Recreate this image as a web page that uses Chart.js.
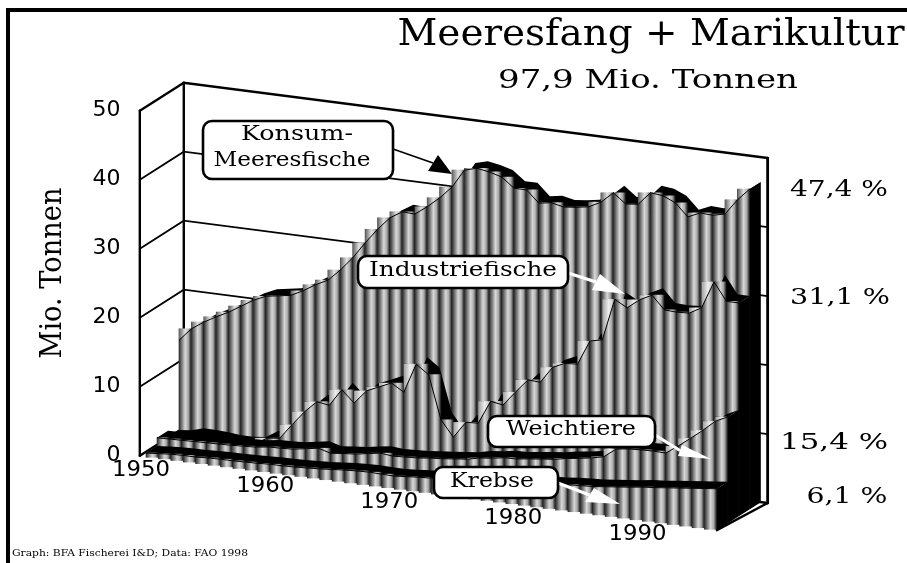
<!DOCTYPE html>
<html>
<head>
<meta charset="utf-8">
<title>Meeresfang + Marikultur</title>
<script src="https://cdn.jsdelivr.net/npm/chart.js@4/dist/chart.umd.min.js"></script>
<style>
  html, body { margin: 0; padding: 0; background: #fff; }
  canvas { display: block; }
</style>
</head>
<body>
<canvas id="chart" width="907" height="563"></canvas>
<script>
const years = [1950, 1951, 1952, 1953, 1954, 1955, 1956, 1957, 1958, 1959,
  1960, 1961, 1962, 1963, 1964, 1965, 1966, 1967, 1968, 1969,
  1970, 1971, 1972, 1973, 1974, 1975, 1976, 1977, 1978, 1979,
  1980, 1981, 1982, 1983, 1984, 1985, 1986, 1987, 1988, 1989,
  1990, 1991, 1992, 1993, 1994, 1995, 1996];

const konsum = [13.8, 15.7, 16.9, 17.9, 18.8, 19.9, 21.0, 21.8, 22.1, 22.4,
  23.3, 24.4, 25.3, 27.0, 29.0, 31.4, 33.6, 35.5, 36.6, 36.5,
  37.8, 39.3, 41.1, 43.8, 44.3, 44.0, 43.5, 42.1, 42.1, 40.4,
  40.7, 40.3, 40.5, 40.8, 41.7, 43.3, 41.9, 42.1, 44.0, 43.8,
  43.0, 41.2, 42.0, 41.9, 42.3, 44.6, 46.4];
const industrie = [0.8, 1.0, 1.5, 1.5, 1.4, 1.2, 1.2, 1.4, 2.5, 2.7,
  4.9, 7.0, 8.7, 8.4, 10.9, 9.2, 11.2, 12.0, 12.8, 11.7,
  16.0, 14.7, 8.4, 6.1, 8.5, 8.6, 12.0, 11.7, 13.8, 15.8,
  15.7, 18.1, 18.9, 19.0, 22.6, 23.0, 29.1, 28.1, 29.5, 30.4,
  28.5, 28.4, 28.5, 29.5, 33.5, 30.9, 30.9];
const weichtiere = [1.7, 1.75, 1.8, 1.85, 1.9, 1.95, 2.0, 2.1, 2.2, 2.45,
  2.5, 2.6, 2.9, 3.2, 2.7, 2.9, 3.05, 3.35, 3.65, 3.45,
  3.55, 3.65, 3.85, 4.0, 4.2, 4.4, 4.8, 5.0, 5.3, 5.35,
  5.6, 5.8, 6.0, 6.35, 6.6, 6.9, 7.3, 8.65, 8.9, 9.0,
  9.05, 9.0, 10.25, 11.6, 13.0, 14.55, 15.4];
const krebse = [0.5, 0.65, 0.8, 0.85, 0.85, 0.95, 1.0, 1.0, 1.05, 1.1,
  1.2, 1.2, 1.25, 1.35, 1.45, 1.6, 1.75, 1.85, 1.9, 1.85,
  1.8, 1.95, 2.1, 2.2, 2.3, 2.4, 2.6, 2.7, 2.9, 3.0,
  3.2, 3.3, 3.5, 3.6, 3.8, 3.9, 4.0, 4.2, 4.4, 4.6,
  4.85, 5.0, 5.2, 5.4, 5.6, 5.8, 6.0];

const layers = [konsum, industrie, weichtiere, krebse]; // back to front
const yTicks = [0, 10, 20, 30, 40, 50];
const xTickYears = [1950, 1960, 1970, 1980, 1990];
const shares = ['47,4 %', '31,1 %', '15,4 %', '6,1 %'];

// oblique projection: year / depth row / value -> axis units
const DEPTH_X = 0.886;
const DEPTH_Y = 1.014;
const SHEAR = 0.232;
const DROP = 0.217;
const projX = (yr, k) => yr + k * DEPTH_X;
const projY = (yr, k, v) => v + k * DEPTH_Y - SHEAR * (yr - 1950) - DROP;
const pt = (yr, k, v) => ({ x: projX(yr, k), y: projY(yr, k, v) });

const datasets = [];

function lineSet(points, color, width) {
  datasets.push({ type: 'line', data: points, borderColor: color, borderWidth: width,
    pointRadius: 0, fill: false, tension: 0, clip: false, borderCapStyle: 'round' });
}
function shapeSet(points, color) {
  datasets.push({ type: 'line', data: points, borderWidth: 0, borderColor: 'transparent',
    backgroundColor: color, pointRadius: 0, fill: 'shape', tension: 0, clip: false });
}

// walls
const wallLeft = 1949.5, wallRight = 1996.55, wallDepth = 4;
yTicks.forEach(v => {
  const w = (v === 0 || v === 50) ? 2.4 : 1.8;
  lineSet([pt(wallLeft, 0, v), pt(wallLeft, wallDepth, v), pt(wallRight, wallDepth, v)], '#000', w);
});
lineSet([pt(wallLeft, 0, 0), pt(wallLeft, 0, 50)], '#000', 2.4);
lineSet([pt(wallLeft, wallDepth, 0), pt(wallLeft, wallDepth, 50)], '#000', 2.4);
lineSet([pt(wallRight, wallDepth, 0), pt(wallRight, wallDepth, 50)], '#000', 2.8);
lineSet([pt(1996, 0, 0), pt(wallRight, wallDepth, 0)], '#000', 2.4);

function barColor(ctx) {
  const sx = ctx.chart.scales.x;
  const c = (sx && ctx.raw) ? sx.getPixelForValue(ctx.raw.x) : NaN;
  if (!Number.isFinite(c)) return '#888';
  const g = ctx.chart.ctx.createLinearGradient(c - 6.2, 0, c + 6.2, 0);
  g.addColorStop(0, '#2c2c2c');
  g.addColorStop(0.5, '#d8d8d8');
  g.addColorStop(0.75, '#a8a8a8');
  g.addColorStop(1, '#101010');
  return g;
}

layers.forEach((values, n) => {
  const k = 3 - n;
  const last = years.length - 1;
  const front = years.map((yr, i) => pt(yr, k, values[i]));
  const back = years.map((yr, i) => pt(yr, k + 1, values[i]));
  // top ribbon + end face, both black
  shapeSet(front.concat(back.slice().reverse()), '#000');
  shapeSet([front[last], back[last], pt(years[last], k + 1, 0), pt(years[last], k, 0)], '#000');
  // columns
  const bars = years.slice(0, last).map((yr, i) => ({
    x: projX(yr + 0.5, k),
    y: [projY(yr + 0.5, k, 0), Math.max(front[i].y, front[i + 1].y)]
  }));
  datasets.push({ type: 'bar', data: bars, backgroundColor: barColor, borderWidth: 0,
    barThickness: 12.4, grouped: false, clip: false });
  // the pale wedges above a rising line
  const steps = [];
  years.slice(0, last).forEach((yr, i) => {
    steps.push(front[i]);
    if (front[i + 1].y > front[i].y) steps.push({ x: front[i].x, y: front[i + 1].y });
  });
  steps.push(front[last]);
  shapeSet(steps.concat(front.slice().reverse()), k === 3 ? 'rgba(255,255,255,0.25)' : 'rgba(255,255,255,0.55)');
  lineSet(front, '#000', 1);
});

datasets.forEach((d, i) => { d.order = -i; });

function fitText(ctx, text, cx, cy, font, width, rot) {
  ctx.save();
  ctx.font = font;
  ctx.fillStyle = '#000';
  ctx.textAlign = 'center';
  ctx.textBaseline = 'middle';
  const w = ctx.measureText(text).width;
  ctx.translate(cx, cy);
  if (rot) ctx.rotate(rot);
  ctx.scale(width / w, 1);
  ctx.fillText(text, 0, 0);
  ctx.restore();
}

function labelBox(ctx, x0, y0, x1, y1) {
  ctx.beginPath();
  ctx.roundRect(x0, y0, x1 - x0, y1 - y0, 9);
  ctx.fillStyle = '#fff';
  ctx.fill();
  ctx.lineWidth = 2.6;
  ctx.strokeStyle = '#000';
  ctx.stroke();
}

function arrow(ctx, color, from, to, a, b, width) {
  ctx.strokeStyle = color;
  ctx.fillStyle = color;
  ctx.lineWidth = width;
  ctx.beginPath();
  ctx.moveTo(from[0], from[1]);
  ctx.lineTo((a[0] + b[0]) / 2, (a[1] + b[1]) / 2);
  ctx.stroke();
  ctx.beginPath();
  ctx.moveTo(a[0], a[1]);
  ctx.lineTo(b[0], b[1]);
  ctx.lineTo(to[0], to[1]);
  ctx.closePath();
  ctx.fill();
}

const annotations = {
  id: 'annotations',
  afterDraw(chart) {
    const ctx = chart.ctx;
    const { x: sx, y: sy } = chart.scales;
    const serif = '"DejaVu Serif"';

    // page frame
    ctx.fillStyle = '#000';
    ctx.fillRect(6, 8, 4, 555);
    ctx.fillRect(6, 8, 901, 4);

    fitText(ctx, 'Meeresfang + Marikultur', 651, 35, '37px ' + serif, 507);
    fitText(ctx, '97,9 Mio. Tonnen', 648, 81, '26px ' + serif, 300);
    fitText(ctx, 'Mio. Tonnen', 53, 273, '29px ' + serif, 171, -Math.PI / 2);
    fitText(ctx, 'Graph: BFA Fischerei I&D; Data: FAO 1998', 130, 554, '9.5px ' + serif, 236);

    xTickYears.forEach(yr => {
      fitText(ctx, String(yr), sx.getPixelForValue(projX(yr - 0.4, 0)),
        sy.getPixelForValue(projY(yr, 0, -2.1)), '21px "DejaVu Sans"', 58);
    });

    fitText(ctx, shares[0], 839, 190, '22px ' + serif, 98);
    fitText(ctx, shares[1], 840, 298, '22px ' + serif, 100);
    fitText(ctx, shares[2], 834, 443, '22px ' + serif, 108);
    fitText(ctx, shares[3], 847, 497, '22px ' + serif, 81);

    // callouts
    arrow(ctx, '#000', [393, 149], [452, 174], [438, 155], [428, 171], 1.8);
    ctx.lineWidth = 1.8;
    labelBox(ctx, 203, 121, 393, 179);
    fitText(ctx, 'Konsum-', 297, 135, '21px ' + serif, 112);
    fitText(ctx, 'Meeresfische', 292, 161, '21px ' + serif, 157);

    arrow(ctx, '#fff', [568, 273], [625, 294], [600, 274], [592, 290], 3);
    labelBox(ctx, 358, 256, 568, 288);
    fitText(ctx, 'Industriefische', 463, 271, '21px ' + serif, 188);

    arrow(ctx, '#fff', [655, 435], [711, 459], [682, 445], [678, 456], 3);
    labelBox(ctx, 488, 416, 655, 447);
    fitText(ctx, 'Weichtiere', 571, 430, '21px ' + serif, 130);

    arrow(ctx, '#fff', [558, 483], [620, 504], [594, 488], [585, 502], 3);
    labelBox(ctx, 434, 467, 558, 498);
    fitText(ctx, 'Krebse', 492, 482, '21px ' + serif, 84);
  }
};

new Chart(document.getElementById('chart'), {
  data: { datasets: datasets },
  plugins: [annotations],
  options: {
    responsive: false,
    animation: false,
    events: [],
    layout: { padding: { left: 0, top: 68.6, right: 103.3, bottom: 25.2 } },
    plugins: { legend: { display: false }, tooltip: { enabled: false }, title: { display: false } },
    scales: {
      x: { type: 'linear', display: false, offset: false, min: 1948.5, max: 2003 },
      y: {
        type: 'linear',
        min: -12,
        max: 56,
        afterFit(scale) { scale.width = 127.4; },
        grid: { display: false, drawTicks: false },
        border: { display: false },
        ticks: {
          stepSize: 10,
          padding: 7,
          color: '#000',
          font: { family: '"DejaVu Sans"', size: 22 },
          callback: v => (yTicks.includes(v) ? v : '')
        }
      }
    }
  }
});
</script>
</body>
</html>
